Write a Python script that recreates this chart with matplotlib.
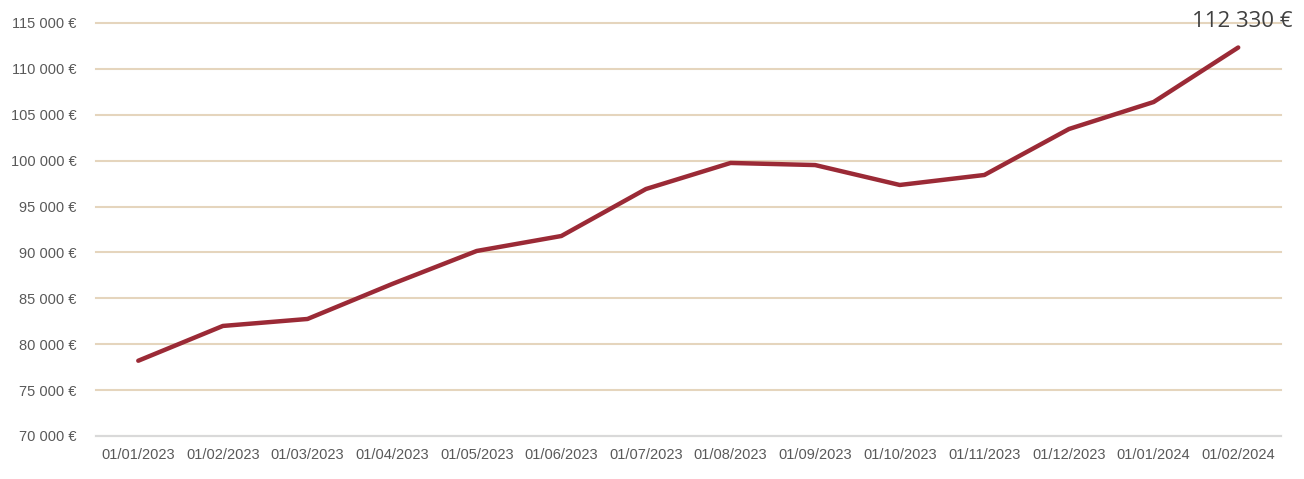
import matplotlib.pyplot as plt
from matplotlib.ticker import FuncFormatter

dates = ['01/01/2023', '01/02/2023', '01/03/2023', '01/04/2023', '01/05/2023',
         '01/06/2023', '01/07/2023', '01/08/2023', '01/09/2023', '01/10/2023',
         '01/11/2023', '01/12/2023', '01/01/2024', '01/02/2024']
values = [78200, 81990, 82750, 86560, 90160, 91790, 96910, 99750, 99520,
          97350, 98440, 103450, 106390, 112330]

narrow = ['Liberation Sans Narrow', 'Liberation Sans', 'DejaVu Sans']

fig = plt.figure(figsize=(13.04, 4.79), dpi=100)
ax = fig.add_axes([0.0736, 0.0898, 0.9084, 0.8622])
ax.set_axisbelow(True)

x = list(range(len(dates)))
ax.plot(x, values, color='#9B2A36', lw=3.2, solid_capstyle='round', zorder=3)

ax.set_xlim(-0.5, len(dates) - 0.5)
ax.set_ylim(70000, 115000)
ax.set_yticks(range(70000, 115001, 5000))
ax.yaxis.set_major_formatter(FuncFormatter(lambda v, p: f'{int(v):,} €'.replace(',', ' ')))
ax.set_xticks(x)
ax.set_xticklabels(dates)

ax.grid(axis='y', color='#E5D5BD', lw=1.5)
for gl in ax.get_ygridlines():
    gl.set_clip_on(False)
for s in ['top', 'right', 'left']:
    ax.spines[s].set_visible(False)
ax.spines['bottom'].set_color('#D9D9D9')
ax.spines['bottom'].set_linewidth(1.5)
ax.spines['bottom'].set_zorder(2.5)
ax.tick_params(length=0, colors='#595959', labelsize=10.5)
ax.tick_params(axis='y', pad=14)
ax.tick_params(axis='x', pad=9)
for lab in ax.get_xticklabels() + ax.get_yticklabels():
    lab.set_family(narrow)

ax.annotate(f'{values[-1]:,} €'.replace(',', ' '), xy=(x[-1], values[-1]),
            xytext=(3, 11), textcoords='offset points', ha='center', va='bottom',
            fontsize=16, color='#404040', family=['Open Sans', 'DejaVu Sans'],
            annotation_clip=False)

fig.savefig('out.png', dpi=100)
